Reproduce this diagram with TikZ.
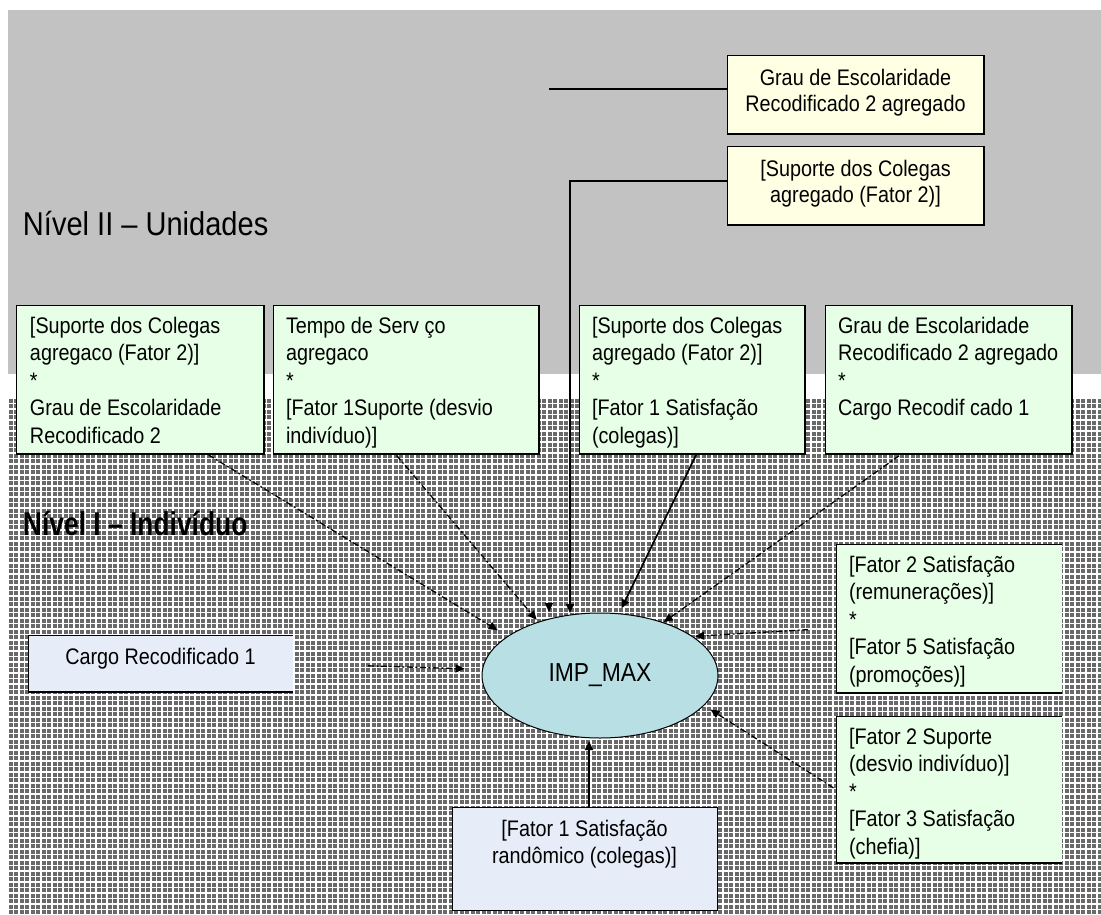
\documentclass[tikz,border=0pt]{standalone}
\usepackage{fontspec}
\setmainfont{Liberation Sans}[FakeStretch=0.88]
\newfontfamily\narrowboldfont{Liberation Sans Bold}[FakeStretch=0.8]
\usetikzlibrary{arrows.meta,shapes.geometric,calc}
\definecolor{topgray}{RGB}{194,194,194}
\definecolor{gridgray}{RGB}{105,105,105}
\definecolor{yelbox}{RGB}{255,255,228}
\definecolor{grnbox}{RGB}{230,255,230}
\definecolor{blubox}{RGB}{230,236,248}
\definecolor{ellfill}{RGB}{184,223,227}
\begin{document}
\begin{tikzpicture}[x=1pt,y=-1pt,
  every node/.style={inner sep=0pt, outer sep=0pt},
  thinb/.style={draw=black, line width=0.8pt},
  shadowb/.style={draw=black, line width=2.4pt},
  ybox/.style={fill=yelbox, anchor=north west, minimum width=257pt, minimum height=79pt},
  gbox/.style={fill=grnbox, anchor=north west, minimum height=149pt},
  bbox/.style={fill=blubox, anchor=north west},
  btext/.style={anchor=base west, font=\fontsize{22.5}{27.5}\selectfont},
  ctext/.style={anchor=base, font=\fontsize{22.5}{26}\selectfont},
  title/.style={anchor=base west, font=\fontsize{33}{38}\selectfont},
  arrowl/.style={-{Triangle[length=9pt,width=8pt]}, line width=1.3pt},
  dashl/.style={dash pattern=on 6pt off 2.5pt on 2pt off 2.5pt},
  solidl/.style={line width=1.7pt}]
\useasboundingbox (0,0) rectangle (1101,915);
\fill[white] (0,0) rectangle (1101,915);
% backgrounds
\fill[topgray] (8,10) rectangle (1101,374);
\begin{scope}
\clip (8,398) rectangle (1101,915);
\fill[gridgray] (8,398) rectangle (1101,915);
\foreach \gx in {8,19,...,1105} {\draw[white,line width=2pt] (\gx,398) -- (\gx,915);}
\foreach \gx in {13.5,24.5,...,1105} {\draw[white,line width=0.6pt] (\gx,398) -- (\gx,915);}
\foreach \gy in {398,409,...,920} {\draw[white,line width=2pt] (8,\gy) -- (1101,\gy);}
\foreach \gy in {403.5,414.5,...,920} {\draw[white,line width=0.6pt] (8,\gy) -- (1101,\gy);}
\end{scope}

% titles
\node[title] (lvl2) at (23,235) {Nível II – Unidades};
\node[title, font=\fontsize{33}{38}\narrowboldfont] (lvl1) at (23,535) {Nível I – Indivíduo};

% yellow boxes
\node[ybox] (a) at (727,55) {};
\draw[thinb] (a.north west) rectangle (a.south east);
\draw[line width=1.4pt] (a.south west) -- (a.south east) -- (a.north east);
\node[ctext] (at) at ($(a.north)+(0,31)$) {\begin{tabular}[t]{@{}c@{}}Grau de Escolaridade\\Recodificado 2 agregado\end{tabular}};

\node[ybox] (b) at (727,146) {};
\draw[thinb] (b.north west) rectangle (b.south east);
\draw[line width=1.4pt] (b.south west) -- (b.south east) -- (b.north east);
\node[ctext] (bt) at ($(b.north)+(0,30)$) {\begin{tabular}[t]{@{}c@{}}{}[Suporte dos Colegas\\agregado (Fator 2)]\end{tabular}};

% green boxes (row)
\node[gbox, minimum width=248pt] (c1) at (16,305) {};
\node[gbox, minimum width=266pt] (c2) at (273,305) {};
\node[gbox, minimum width=226pt] (c3) at (579,305) {};
\node[gbox, minimum width=247pt] (c4) at (825,305) {};
\foreach \bx in {c1,c2,c3,c4} {
  \draw[thinb] (\bx.north west) rectangle (\bx.south east);
  \draw[shadowb] (\bx.south west) -- (\bx.south east) -- (\bx.north east);
}
\node[btext] (c1t) at ($(c1.north west)+(14,28)$) {\begin{tabular}[t]{@{}l@{}}{}[Suporte dos Colegas\\agregaco (Fator 2)]\\{}*\\Grau de Escolaridade\\Recodificado 2\end{tabular}};
\node[btext] (c2t) at ($(c2.north west)+(13,28)$) {\begin{tabular}[t]{@{}l@{}}Tempo de Serv ço\\agregaco\\{}*\\{}[Fator 1Suporte (desvio\\indivíduo)]\end{tabular}};
\node[btext] (c3t) at ($(c3.north west)+(13,28)$) {\begin{tabular}[t]{@{}l@{}}{}[Suporte dos Colegas\\agregado (Fator 2)]\\{}*\\{}[Fator 1 Satisfação\\(colegas)]\end{tabular}};
\node[btext] (c4t) at ($(c4.north west)+(13,28)$) {\begin{tabular}[t]{@{}l@{}}Grau de Escolaridade\\Recodificado 2 agregado\\{}*\\Cargo Recodif cado 1\end{tabular}};

% right green boxes
\node[gbox, minimum width=226pt] (r1) at (836,544) {};
\node[gbox, minimum width=226pt, minimum height=147pt] (r2) at (836,716) {};
\foreach \bx in {r1,r2} {
  \draw[thinb] (\bx.north east) -- (\bx.north west) -- (\bx.south west) -- (\bx.south east);
  \draw[shadowb] (\bx.south west) -- (\bx.south east);
}
\node[btext] (r1t) at ($(r1.north west)+(13,28)$) {\begin{tabular}[t]{@{}l@{}}{}[Fator 2 Satisfação\\(remunerações)]\\{}*\\{}[Fator 5 Satisfação\\(promoções)]\end{tabular}};
\node[btext] (r2t) at ($(r2.north west)+(13,28)$) {\begin{tabular}[t]{@{}l@{}}{}[Fator 2 Suporte\\(desvio indivíduo)]\\{}*\\{}[Fator 3 Satisfação\\(chefia)]\end{tabular}};

% blue boxes
\node[bbox, minimum width=265pt, minimum height=57pt] (cargo) at (28,635) {};
\draw[thinb] (cargo.north east) -- (cargo.north west) -- (cargo.south west) -- (cargo.south east);
\draw[line width=2pt] (cargo.south west) -- (cargo.south east);
\node[ctext] (cargot) at ($(cargo.north)+(0,29)$) {Cargo Recodificado 1};

\node[bbox, minimum width=265pt, minimum height=103pt] (rnd) at (452,807) {};
\draw[thinb] (rnd.north west) rectangle (rnd.south east);
\node[ctext, font=\fontsize{22.5}{27}\selectfont] (rndt) at ($(rnd.north)+(0,29)$) {\begin{tabular}[t]{@{}c@{}}{}[Fator 1 Satisfação\\randômico (colegas)]\end{tabular}};

% ellipse
\node[ellipse, draw=black, line width=1pt, fill=ellfill, minimum width=236pt, minimum height=125pt, font=\fontsize{26}{30}\selectfont] (imp) at (600,675.5) {IMP\_MAX};

% connectors
\draw[solidl] ([yshift=5.5pt]a.west) -- ++(-178,0) coordinate (aend);
\coordinate (lonetop) at (549,603);
\coordinate (lonetip) at (549,612);
\draw[arrowl] (lonetop) -- (lonetip);
\coordinate (bc) at (570,181);
\draw[arrowl, solidl] ([yshift=4.5pt]b.west) -- (bc) -- (bc |- imp.north);
\draw[arrowl, dashl, shorten <=2pt, shorten >=12pt] ($(c1.south west)!0.77!(c1.south east)$) -- (imp.157.5);
\draw[arrowl, dashl, shorten <=2pt, shorten >=3pt] ($(c2.south west)!0.46!(c2.south east)$) -- (imp.139.5);
\draw[arrowl, solidl, shorten <=1pt, shorten >=6pt] ($(c3.south west)!0.52!(c3.south east)$) -- (imp.73.7);
\draw[arrowl, dashl, shorten <=3pt, shorten >=1pt] ($(c4.south west)!0.31!(c4.south east)$) -- (imp.40.3);
\draw[arrowl, dashl, shorten <=28pt, shorten >=3pt] ([yshift=-9.5pt]r1.west) -- (imp.23.1);
\draw[arrowl, dashl, shorten <=3pt, shorten >=8pt] (r2.west) -- (imp.-16.2);
\draw[arrowl, dashl, shorten <=75pt, shorten >=18pt] (cargo.east) -- (imp.177.3);
\coordinate (rndtop) at ($(rnd.north)+(4.5,0)$);
\draw[arrowl, solidl, shorten >=3pt] (rndtop) -- (rndtop |- imp.south);
\end{tikzpicture}
\end{document}
